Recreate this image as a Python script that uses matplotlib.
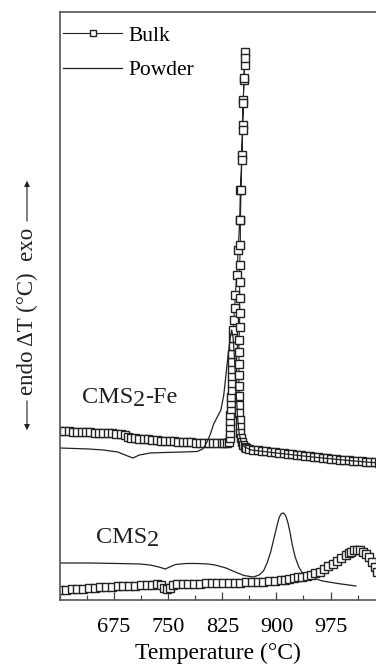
import matplotlib
matplotlib.use("Agg")
import matplotlib.pyplot as plt
from matplotlib.ticker import MultipleLocator

plt.rcParams['font.family'] = ['Liberation Serif', 'DejaVu Serif']

# CMS2-Fe, bulk (squares)
fe_bulk_T = [600, 606, 612, 618, 624, 630, 636, 642, 648, 654, 660, 666, 672, 678, 684, 690,
             694, 698, 704, 710, 716, 722, 728, 734, 740, 746, 752, 758, 764, 770, 776, 782,
             788, 794, 800, 806, 812, 818, 824, 828, 832, 834,
             835, 835, 836, 836, 836, 837, 837, 837, 838, 838, 838, 839, 839, 839, 840, 840,
             840, 841, 842, 843, 845, 847, 849, 850, 852, 853, 854, 855, 856, 856,
             856, 855, 854, 853, 852, 851, 850, 850, 849, 849, 849, 849, 849, 848, 848, 848,
             848, 848, 848, 848, 848, 849, 849, 850, 851, 852, 854, 856, 858,
             862, 868, 874, 880, 886, 892, 898, 904, 910, 916, 922, 928, 934, 940, 946, 952,
             958, 964, 970, 976, 982, 988, 994, 1000, 1006, 1012, 1018, 1024, 1030, 1036, 1042]
fe_bulk_y = [169, 169, 169, 168.5, 168.5, 168, 168, 168, 167.5, 167.5, 167, 167, 167, 166.5, 166, 165,
             163, 162, 162, 161.5, 161, 161, 160.5, 160, 159.5, 159.5, 159, 159, 158.5, 158.5, 158, 158,
             157.5, 157.5, 157, 157, 157, 157, 157, 157, 157.5, 158,
             162, 167, 173, 179, 185, 191, 197, 203, 210, 217, 224, 231, 238, 246, 254, 262,
             270, 280, 292, 305, 325, 350, 380, 410, 445, 475, 500, 520, 535, 548,
             542, 522, 497, 470, 440, 410, 380, 355, 335, 318, 302, 287, 273, 260, 248, 236,
             225, 214, 204, 195, 187, 180, 173, 167, 162, 158, 155, 153, 152,
             151, 150.5, 150, 149.5, 149, 148.5, 148, 147.5, 147, 146.5, 146, 145.5, 145, 144.5, 144, 143.5,
             143, 142.5, 142, 141.5, 141, 140.5, 140, 140, 139.5, 139, 139, 138.5, 138, 138, 137.5]

# CMS2-Fe, powder (line)
fe_pow_T = [600, 620, 640, 660, 680, 692, 701, 710, 725, 745, 770, 790, 798, 803, 808, 813,
            818, 823, 827, 830, 833, 836, 838, 840, 842, 844, 846, 848, 851, 856, 865, 900,
            950, 1000, 1042]
fe_pow_y = [152, 151.5, 151, 150, 148, 144.5, 142, 145, 147, 147.5, 148, 148.5, 151, 157, 165, 176,
            183, 190, 205, 225, 245, 262, 270, 262, 240, 210, 185, 168, 158, 153, 150, 147,
            143, 139.5, 137]

# CMS2, powder (line)
cms_pow_T = [600, 640, 680, 711, 725, 737, 746, 752, 760, 775, 790, 805, 815, 830, 843, 855,
             868, 876, 882, 887, 892, 897, 901, 904, 907, 910, 913, 916, 919, 922, 926, 931,
             936, 940, 950, 964, 985, 1010]
cms_pow_y = [37, 37, 36.5, 36, 35, 33, 31, 33, 35.5, 36.5, 36.5, 36, 35, 32, 28, 24.5,
             23, 25, 29, 37, 48, 63, 75, 83, 86.5, 87, 84, 77, 67, 55, 43, 33,
             27, 25, 22, 19, 16.5, 14]

# CMS2, bulk (squares)
cms_bulk_T = [600, 608, 616, 624, 632, 640, 648, 656, 664, 672, 680, 688, 696, 704, 712, 720,
              728, 734, 740, 744, 748, 752, 756, 762, 770, 778, 786, 794, 802, 810, 818, 826,
              834, 842, 850, 858, 866, 874, 882, 890, 898, 906, 912, 918, 924, 930, 936, 942,
              948, 954, 960, 966, 972, 978, 984, 990, 996, 1000, 1004, 1008, 1012, 1016, 1020,
              1024, 1028, 1032, 1036, 1040]
cms_bulk_y = [10, 10.5, 11, 11, 11.5, 12, 12.5, 13, 13, 13.5, 14, 14, 14.5, 14.5, 15, 15,
              15.5, 16, 15, 12, 11, 12.5, 15.5, 16, 16, 16.5, 16.5, 16.5, 17, 17, 17, 17,
              17, 17.5, 17.5, 18, 18, 18.5, 18.5, 19, 19.5, 20, 20.5, 21, 22, 23, 23.5, 24.5,
              25.5, 27, 28, 31, 34, 36.5, 39, 42.5, 45, 47, 48.5, 50, 50.5, 50, 48.5,
              46.5, 43, 38.5, 33, 28]

fig = plt.figure(figsize=(3.76, 6.64), dpi=100)
ax = fig.add_axes([60 / 376, 64 / 664, 316 / 376, 588 / 664])

ax.plot(fe_bulk_T, fe_bulk_y, color='#222222', lw=0.8, marker='s', ms=5.3,
        mfc='white', mec='#222222', mew=1.0, label='Bulk')
ax.plot(fe_pow_T, fe_pow_y, color='#222222', lw=0.9, label='Powder')
ax.plot(cms_pow_T, cms_pow_y, color='#222222', lw=0.9)
ax.plot(cms_bulk_T, cms_bulk_y, color='#222222', lw=0.8, marker='s', ms=5.3,
        mfc='white', mec='#222222', mew=1.0)

ax.set_xlim(600, 1038)
ax.set_ylim(0, 588)
ax.xaxis.set_minor_locator(MultipleLocator(37.5))
ax.set_xticks([675, 750, 825, 900, 975])
ax.tick_params(axis='x', which='major', direction='in', length=6, width=0.9,
               color='#444444', labelsize=16, pad=13)
ax.tick_params(axis='x', which='minor', direction='in', length=3.5, width=0.9, color='#444444')
ax.set_yticks([])
ax.spines['right'].set_visible(False)
for s in ['left', 'top', 'bottom']:
    ax.spines[s].set_color('#555555')
    ax.spines[s].set_linewidth(1.2)

ax.set_xlabel('Temperature (°C)', fontsize=17, labelpad=4)

# curve labels, "2" kept full size and lowered
t1 = ax.text(630, 197, 'CMS', fontsize=17.5, color='#222222')
t2 = ax.annotate('2', xy=(1, 0), xycoords=t1, xytext=(0, -2.5), va='bottom',
                 textcoords='offset points', fontsize=17.5, color='#222222')
ax.annotate('-Fe', xy=(1, 0), xycoords=t2, xytext=(0, 2.5), va='bottom',
            textcoords='offset points', fontsize=17.5, color='#222222')
t4 = ax.text(650, 57, 'CMS', fontsize=17.5, color='#222222')
ax.annotate('2', xy=(1, 0), xycoords=t4, xytext=(0, -2.5), va='bottom',
            textcoords='offset points', fontsize=17.5, color='#222222')

ax.legend(loc='upper left', bbox_to_anchor=(0.01, 0.977), frameon=False, fontsize=15.5,
          handlelength=2.75, handletextpad=0.3, labelspacing=0.68, borderpad=0,
          borderaxespad=0, markerscale=0.8)

# y label with arrows
fig.text(27 / 376, 1 - 311 / 664, 'endo ΔT (°C)  exo', rotation=90, ha='center',
         va='center', fontsize=16.5, color='#222222')
ax.annotate('', xy=(27 / 376, 1 - 178 / 664), xytext=(27 / 376, 1 - 224 / 664),
            xycoords='figure fraction',
            arrowprops=dict(arrowstyle='-|>', color='#222222', lw=0.8, mutation_scale=8))
ax.annotate('', xy=(27 / 376, 1 - 433 / 664), xytext=(27 / 376, 1 - 398 / 664),
            xycoords='figure fraction',
            arrowprops=dict(arrowstyle='-|>', color='#222222', lw=0.8, mutation_scale=8))

fig.savefig('out.png', dpi=100)
